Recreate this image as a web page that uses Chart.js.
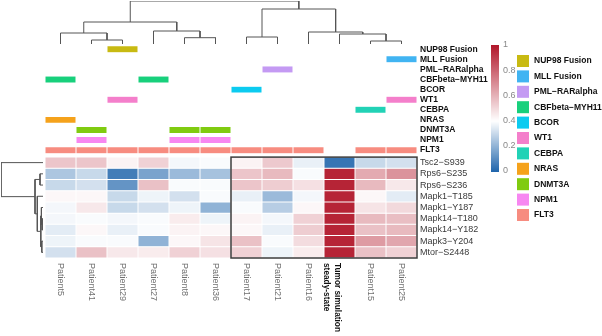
<!DOCTYPE html>
<html>
<head>
<meta charset="utf-8">
<script src="https://cdn.jsdelivr.net/npm/chart.js@4.4.1/dist/chart.umd.min.js"></script>
<style>
  html, body { margin:0; padding:0; background:#fff; }
  #wrap { position:relative; width:602px; height:336px; }
  #wrap canvas { position:absolute; left:0; top:0; }
</style>
</head>
<body>
<div id="wrap">
  <canvas id="heat" width="602" height="336"></canvas>
  <canvas id="colDend" width="602" height="336"></canvas>
  <canvas id="rowDend" width="602" height="336"></canvas>
</div>
<script>
// columns, in the order they are drawn
const patients = ['Patient5','Patient41','Patient29','Patient27','Patient8','Patient36',
  'Patient17','Patient21','Patient16','Tumor simulation\nsteady-state','Patient15','Patient25']
const tumorCol = 9

const proteins = ['Tsc2−S939','Rps6−S235','Rps6−S236','Mapk1−T185','Mapk1−Y187',
  'Mapk14−T180','Mapk14−Y182','Mapk3−Y204','Mtor−S2448']

// scaled values, one row per protein
const cellValues = [
  [0.55,0.55,0.43,0.52,0.38,0.39,0.43,0.54,0.36,0.04,0.30,0.32],
  [0.25,0.30,0.06,0.16,0.22,0.24,0.55,0.58,0.39,0.97,0.62,0.68],
  [0.30,0.32,0.12,0.56,0.39,0.39,0.55,0.53,0.48,0.97,0.58,0.46],
  [0.42,0.42,0.30,0.37,0.32,0.39,0.36,0.22,0.38,0.97,0.42,0.35],
  [0.38,0.46,0.30,0.32,0.37,0.20,0.39,0.27,0.42,0.97,0.47,0.50],
  [0.38,0.39,0.38,0.39,0.45,0.37,0.43,0.38,0.52,0.97,0.58,0.57],
  [0.35,0.42,0.36,0.39,0.43,0.42,0.42,0.36,0.53,0.97,0.56,0.58],
  [0.37,0.39,0.39,0.20,0.42,0.47,0.56,0.39,0.49,0.97,0.66,0.63],
  [0.32,0.56,0.46,0.45,0.52,0.48,0.52,0.37,0.45,0.97,0.56,0.52]
]

const mutations = ['NUP98 Fusion','MLL Fusion','PML−RARalpha','CBFbeta−MYH11','BCOR','WT1',
  'CEBPA','NRAS','DNMT3A','NPM1','FLT3']
const mutationColors = ['#C8BA12','#41B4F2','#C49AF3','#18D07C','#0CCBF0','#F47FCB',
  '#22D2B6','#F5A21B','#80CB10','#F787F1','#F78C80']
// column indexes carrying each mutation
const mutatedPatients = [[2],[11],[7],[0,3],[6],[2,11],[10],[0],[1,4,5],[1,4,5],
  [0,1,2,3,4,5,6,7,8,10,11]]

// hclust style merges: negative = leaf (1-based), positive = earlier merge, then height
const colMerges = [[-11,-12,3],[-2,-3,4],[-5,-6,6.3],[-7,-8,7],[-10,1,10],[-1,2,11],
  [-9,5,12],[-4,3,13],[6,8,22],[4,7,35],[9,10,43]]
const rowMerges = [[-6,-7,0.8],[-8,-9,1.2],[-5,1,1.6],[3,2,2.2],[-2,-3,3],[-4,4,5.7],
  [5,6,8],[-1,7,42]]

const scaleTicks = [0,0.2,0.4,0.6,0.8,1]

// colour ramp blue - white - red
const lowCol = [33,102,172], midCol = [255,255,255], highCol = [178,24,43], midVal = 0.4
function heatColor(v){
    let a, b, t
    if(v < midVal){ a = lowCol; b = midCol; t = v/midVal }
    else { a = midCol; b = highCol; t = (v-midVal)/(1-midVal) }
    const c = a.map((x,i)=>Math.round(x + (b[i]-x)*t))
    return `rgb(${c[0]},${c[1]},${c[2]})`
}

// annotation track geometry (in heatmap row units)
const trackStep = 0.9, lastTrackCenter = -0.62, trackHalf = 0.31
const trackCenter = k => lastTrackCenter - (mutations.length-1-k)*trackStep

const FONT = '"Liberation Sans", Arial, sans-serif'

const heatSets = cellValues.map((row, r) => ({
    label: proteins[r],
    data: row.map((v, i) => ({x: i, y: [r, r+1]})),
    backgroundColor: row.map(heatColor)
}))
const annoSets = mutations.map((m, k) => ({
    label: m,
    data: mutatedPatients[k].map(i => ({x: i, y: [trackCenter(k)-trackHalf, trackCenter(k)+trackHalf]})),
    backgroundColor: mutationColors[k]
}))

const textPlugin = {
    id: 'texts',
    afterDraw(chart){
        const {ctx, scales:{x, y}} = chart
        ctx.save()
        // box around the simulation block
        ctx.strokeStyle = '#3c3c3c'
        ctx.lineWidth = 1.5
        const bx = x.getPixelForValue(5.5), by = y.getPixelForValue(0)
        ctx.strokeRect(bx, by, x.getPixelForValue(11.5)-bx, y.getPixelForValue(9)-by)

        const lx = x.right + 3
        ctx.textBaseline = 'middle'
        ctx.textAlign = 'left'
        ctx.fillStyle = '#3a3a3a'
        ctx.font = '9px ' + FONT
        proteins.forEach((p, r) => ctx.fillText(p, lx, y.getPixelForValue(r+0.5)))
        ctx.fillStyle = '#111'
        ctx.font = 'bold 8.5px ' + FONT
        mutations.forEach((m, k) => ctx.fillText(m, lx, y.getPixelForValue(trackCenter(k))))

        // column labels, turned clockwise
        const top = y.bottom + 5
        patients.forEach((p, i) => {
            const cx = x.getPixelForValue(i)
            ctx.save()
            ctx.translate(cx, top)
            ctx.rotate(Math.PI/2)
            if(i === tumorCol){
                ctx.fillStyle = '#111'
                ctx.font = 'bold 8.3px ' + FONT
                const lines = p.split('\n')
                ctx.fillText(lines[0], 0, 2)
                ctx.fillText(lines[1], 0, 13)
            } else {
                ctx.fillStyle = '#707070'
                ctx.font = '9px ' + FONT
                ctx.fillText(p, 0, 0)
            }
            ctx.restore()
        })

        // colour bar
        const cbX = 491, cbW = 8, cbTop = 45, cbH = 127
        for(let py = 0; py < cbH; py++){
            ctx.fillStyle = heatColor(1 - py/(cbH-1))
            ctx.fillRect(cbX, cbTop+py, cbW, 1)
        }
        ctx.fillStyle = '#888'
        ctx.font = '9px ' + FONT
        scaleTicks.forEach(t => ctx.fillText(String(t), cbX+cbW+4, cbTop + (1-t)*(cbH-1)))

        // legend
        const lgX = 517, lgTop = 61, lgStep = 15.4, box = 12
        mutations.forEach((m, k) => {
            const cy = lgTop + k*lgStep
            ctx.fillStyle = mutationColors[k]
            ctx.fillRect(lgX, cy - box/2, box, box)
            ctx.fillStyle = '#111'
            ctx.font = 'bold 8.5px ' + FONT
            ctx.fillText(m, lgX + box + 5, cy)
        })
        ctx.restore()
    }
}

new Chart(document.getElementById('heat'), {
    type: 'bar',
    data: { datasets: [...heatSets, ...annoSets] },
    options: {
        responsive: false,
        animation: false,
        layout: { padding: {left:45, right:185, top:45, bottom:78} },
        datasets: { bar: {
            grouped: false, barPercentage: 1, categoryPercentage: 1,
            borderWidth: 0.5, borderColor: '#ffffff', borderSkipped: false, inflateAmount: 0
        }},
        plugins: { legend: {display:false}, tooltip: {enabled:false} },
        scales: {
            x: { type:'linear', min:-0.5, max:11.5, offset:false, display:false,
                 ticks: {stepSize:1, includeBounds:false} },
            y: { type:'linear', min:-10, max:9, reverse:true, display:false }
        }
    },
    plugins: [textPlugin]
})

// dendrogram segments from the merge table
function dendroSegments(merges){
    const nodes = []
    const get = id => id < 0 ? {pos: -id-1, h: 0} : nodes[id-1]
    const segs = []
    merges.forEach(([a, b, h]) => {
        const A = get(a), B = get(b)
        segs.push([[A.pos, A.h],[A.pos, h],[B.pos, h],[B.pos, B.h]])
        nodes.push({pos: (A.pos+B.pos)/2, h: h})
    })
    return segs
}

const lineStyle = { showLine:true, borderColor:'#555', borderWidth:1, pointRadius:0, fill:false }

new Chart(document.getElementById('colDend'), {
    type: 'scatter',
    data: { datasets: dendroSegments(colMerges).map(s => ({
        ...lineStyle, data: s.map(([p, h]) => ({x:p, y:h})) })) },
    options: {
        responsive: false, animation: false,
        layout: { padding: {left:45, right:185, top:1, bottom:292} },
        plugins: { legend:{display:false}, tooltip:{enabled:false} },
        scales: {
            x: { type:'linear', min:-0.5, max:11.5, display:false },
            y: { type:'linear', min:0, max:43, display:false }
        }
    }
})

new Chart(document.getElementById('rowDend'), {
    type: 'scatter',
    data: { datasets: dendroSegments(rowMerges).map(s => ({
        ...lineStyle, data: s.map(([p, h]) => ({x:h, y:p})) })) },
    options: {
        responsive: false, animation: false,
        layout: { padding: {left:1, right:559, top:157, bottom:78} },
        plugins: { legend:{display:false}, tooltip:{enabled:false} },
        scales: {
            x: { type:'linear', min:0, max:42, reverse:true, display:false },
            y: { type:'linear', min:-0.5, max:8.5, reverse:true, display:false }
        }
    }
})
</script>
</body>
</html>
